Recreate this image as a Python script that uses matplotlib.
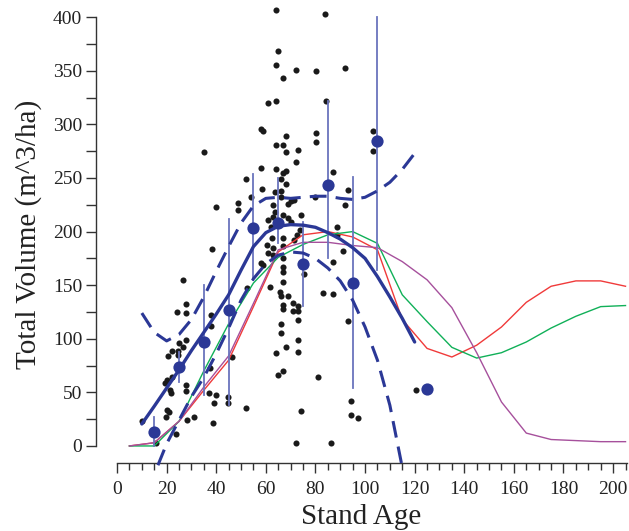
import matplotlib
matplotlib.use("Agg")
import matplotlib.pyplot as plt
from matplotlib.ticker import FixedLocator

# ---------------- data ----------------
obs_age = [26.7, 27.8, 24.1, 27.8, 37.8, 37.8, 25.1, 27.8, 26.7, 22.1, 24.7, 20.7, 24.7, 37.5,
           22.1, 20.0, 19.4, 21.4, 21.8, 27.8, 27.8, 37.2, 39.9, 39.1, 20.0, 21.1, 19.8, 28.1,
           31.0, 10.0, 38.8, 23.8, 15.7, 44.9, 44.9, 46.3, 38.2, 52.3, 51.9,
           60.4, 61.0, 63.0, 62.8, 58.1, 59.0, 61.7, 66.8, 66.8, 66.8, 65.7, 66.0, 69.1, 67.1,
           67.1, 71.1, 73.1, 70.8, 73.1, 73.1, 66.0, 66.0, 73.1, 68.0, 64.0, 73.1, 67.1, 65.0,
           81.0, 74.1, 72.1, 86.2, 83.2, 87.0,
           63.7, 66.0, 66.0, 53.9, 48.9, 48.9, 63.0, 71.4, 70.2, 69.1, 63.7, 63.0, 66.8, 74.2,
           60.8, 69.1, 62.4, 66.8, 66.8, 72.5, 71.5, 79.8, 88.6, 88.8, 67.1, 73.8, 39.8,
           64.0, 65.0, 64.0, 72.1, 80.1, 66.9, 61.0, 64.0, 84.1, 57.9, 59.0, 68.0, 80.1, 80.1,
           64.0, 67.1, 68.0, 73.1, 72.1, 57.9, 64.0, 67.1, 68.1, 52.0, 66.0, 87.0, 68.0, 35.1,
           84.0, 92.1, 103.1, 103.1, 93.0, 92.1, 91.1, 87.1, 93.1, 94.4, 94.4, 97.3, 120.5,
           62.0, 70.0, 75.5, 58.5]
obs_vol = [154.9, 132.5, 124.7, 123.8, 122.2, 112.2, 95.8, 98.9, 92.6, 88.9, 88.9, 84.0, 84.9, 72.5,
           64.6, 61.6, 58.5, 52.2, 49.2, 56.9, 51.3, 49.7, 47.6, 40.4, 33.6, 31.4, 27.3, 24.3,
           26.8, 23.6, 21.7, 11.2, 2.5, 46.0, 40.4, 82.7, 183.5, 147.1, 35.2,
           187.5, 179.8, 184.4, 178.2, 170.4, 168.8, 148.6, 175.1, 166.7, 153.3, 143.9, 139.9, 139.9, 131.5,
           127.8, 133.7, 130.9, 126.2, 126.2, 117.5, 113.8, 105.7, 99.2, 92.1, 86.5, 87.4, 70.0, 66.2,
           64.1, 32.9, 3.1, 2.8, 143.0, 141.8,
           237.2, 237.9, 232.6, 232.6, 226.4, 220.1, 224.8, 229.5, 228.5, 225.7, 218.6, 213.9, 215.5, 215.5,
           210.8, 213.0, 193.8, 193.8, 186.6, 196.8, 192.2, 232.6, 204.6, 196.8, 162.6, 201.5, 222.7,
           406.7, 368.7, 355.4, 351.0, 350.1, 343.0, 320.2, 321.5, 322.1, 295.4, 294.1, 289.5, 292.3, 283.3,
           280.8, 280.8, 274.3, 276.1, 264.9, 259.6, 258.4, 254.9, 256.2, 249.1, 249.1, 255.9, 244.1, 274.5,
           403.3, 352.9, 293.6, 274.9, 238.5, 224.5, 182.0, 171.4, 116.3, 41.5, 29.3, 26.1, 52.1,
           204.0, 209.0, 160.0, 240.0]

mean_age = [15, 25, 35, 45, 55, 65, 75, 85, 95, 105, 125]
mean_vol = [13.3, 73.4, 97.3, 126.9, 203.0, 207.7, 169.5, 243.5, 152.0, 284.5, 53.0]
bar_low = [0.0, 60.0, 47.6, 38.0, 155.0, 189.0, 130.9, 175.0, 54.0, 164.0, None]
bar_high = [27.3, 88.0, 150.0, 211.7, 254.0, 250.0, 208.6, 322.0, 251.0, 400.0, None]

fit_age = [10, 15, 20, 25, 30, 35, 40, 45, 50, 55, 60, 65, 70, 75, 80, 85, 90, 95, 100, 105, 110, 115, 120]
fit_vol = [20.5, 37, 54, 71, 89, 106, 123, 141, 164, 186, 199, 205, 206.5, 206, 204, 199, 193, 185, 175, 158, 139, 119, 97]

up_age = [10, 15, 20, 25, 30, 35, 40, 45, 50, 55, 60, 65, 70, 75, 80, 85, 90, 95, 100, 105, 110, 115, 120]
up_vol = [124, 106, 98, 104, 118, 139, 163, 186, 208, 224, 231, 232, 231, 232, 233, 233, 231, 230, 232, 238, 246, 258, 273]

lo_age = [16.5, 20, 25, 30, 35, 40, 45, 50, 55, 60, 65, 70, 75, 80, 85, 90, 95, 100, 105, 110, 115]
lo_vol = [-18, 2, 24, 46, 64, 86, 110, 136, 156, 170, 178, 181, 180, 175, 166, 154, 136, 111, 80, 38, -20]

sim_age = [5, 15, 25, 35, 45, 55, 65, 75, 85, 95, 105, 115, 125, 135, 145, 155, 165, 175, 185, 195, 205]
red_vol = [0, 3, 23, 52, 80, 130, 181, 197, 200, 195, 183, 118, 91, 83, 94, 111, 134, 149, 154, 154, 149]
green_vol = [0, 0, 23, 70, 114, 152, 176, 188, 197, 200, 189, 141, 116, 92, 82, 87, 97, 110, 121, 130, 131]
purple_vol = [0, 3, 23, 55, 84, 133, 183, 190, 190, 187, 185, 172, 155, 129, 87, 41, 12, 6, 5, 4, 4]

x_ticks = [0, 20, 40, 60, 80, 100, 120, 140, 160, 180, 200]
x_minor = [10, 30, 50, 70, 90, 110, 130, 150, 170, 190, 5, 15, 25, 35, 45, 55, 65, 75, 85,
           95, 105, 115, 125, 135, 145, 155, 165, 175, 185, 195, 205]
y_ticks = [0, 50, 100, 150, 200, 250, 300, 350, 400]
y_minor = [25, 75, 125, 175, 225, 275, 325, 375]

# ---------------- style ----------------
plt.rcParams['font.family'] = ['Liberation Serif', 'DejaVu Serif']
BLUE = '#2b3896'
BAR = '#6a74bd'
TXT = '#222222'

fig = plt.figure(figsize=(6.29, 5.31), dpi=100)
ax = fig.add_axes([96 / 629, 68 / 531, 531 / 629, 458 / 531])
ax.set_xlim(-8.47, 205.6)
ax.set_ylim(-15.9, 411.4)

# scatter of observations
ax.plot(obs_age, obs_vol, 'o', color='#1a1a1a', markersize=4.4, markeredgewidth=0, zorder=2)

# simulated curves
ax.plot(sim_age, red_vol, color='#f03a3a', lw=1.0, zorder=3)
ax.plot(sim_age, green_vol, color='#10b058', lw=1.0, zorder=3)
ax.plot(sim_age, purple_vol, color='#a6509c', lw=1.0, zorder=3)

# error bars
for a, lo, hi in zip(mean_age, bar_low, bar_high):
    if lo is None:
        continue
    ax.plot([a, a], [lo, hi], color=BAR, lw=1.3, zorder=4)

# fit and confidence band
ax.plot(fit_age, fit_vol, color=BLUE, lw=2.4, zorder=5, solid_capstyle='round')
ax.plot(up_age, up_vol, color=BLUE, lw=2.2, ls=(0, (5.5, 3)), zorder=5, clip_on=False)
ax.plot(lo_age, lo_vol, color=BLUE, lw=2.2, ls=(0, (5.5, 3)), zorder=5, clip_on=False)

# means
ax.plot(mean_age, mean_vol, 'o', color=BLUE, markersize=8.8, markeredgewidth=0, zorder=6)

# axes styling
for s in ['top', 'right']:
    ax.spines[s].set_visible(False)
ax.spines['left'].set_bounds(0, 400)
ax.spines['bottom'].set_bounds(0, 205.6)
for s in ['left', 'bottom']:
    ax.spines[s].set_color('#333333')
    ax.spines[s].set_linewidth(1.0)

ax.set_xticks(x_ticks)
ax.set_yticks(y_ticks)
ax.xaxis.set_minor_locator(FixedLocator(x_minor))
ax.yaxis.set_minor_locator(FixedLocator(y_minor))
ax.tick_params(axis='y', which='both', direction='out', length=7, width=1.0,
               color='#333333', labelsize=14, labelcolor=TXT, pad=3)
ax.tick_params(axis='x', which='major', direction='out', length=7, width=1.0,
               color='#333333', labelsize=14, labelcolor=TXT, pad=6)
ax.tick_params(axis='x', which='minor', direction='out', length=5, width=1.0, color='#333333')

ax.set_xlabel('Stand Age', fontsize=21, color=TXT, labelpad=4)
ax.set_ylabel('Total Volume (m^3/ha)', fontsize=21, color=TXT, labelpad=8)

fig.savefig('out.png', dpi=100)
